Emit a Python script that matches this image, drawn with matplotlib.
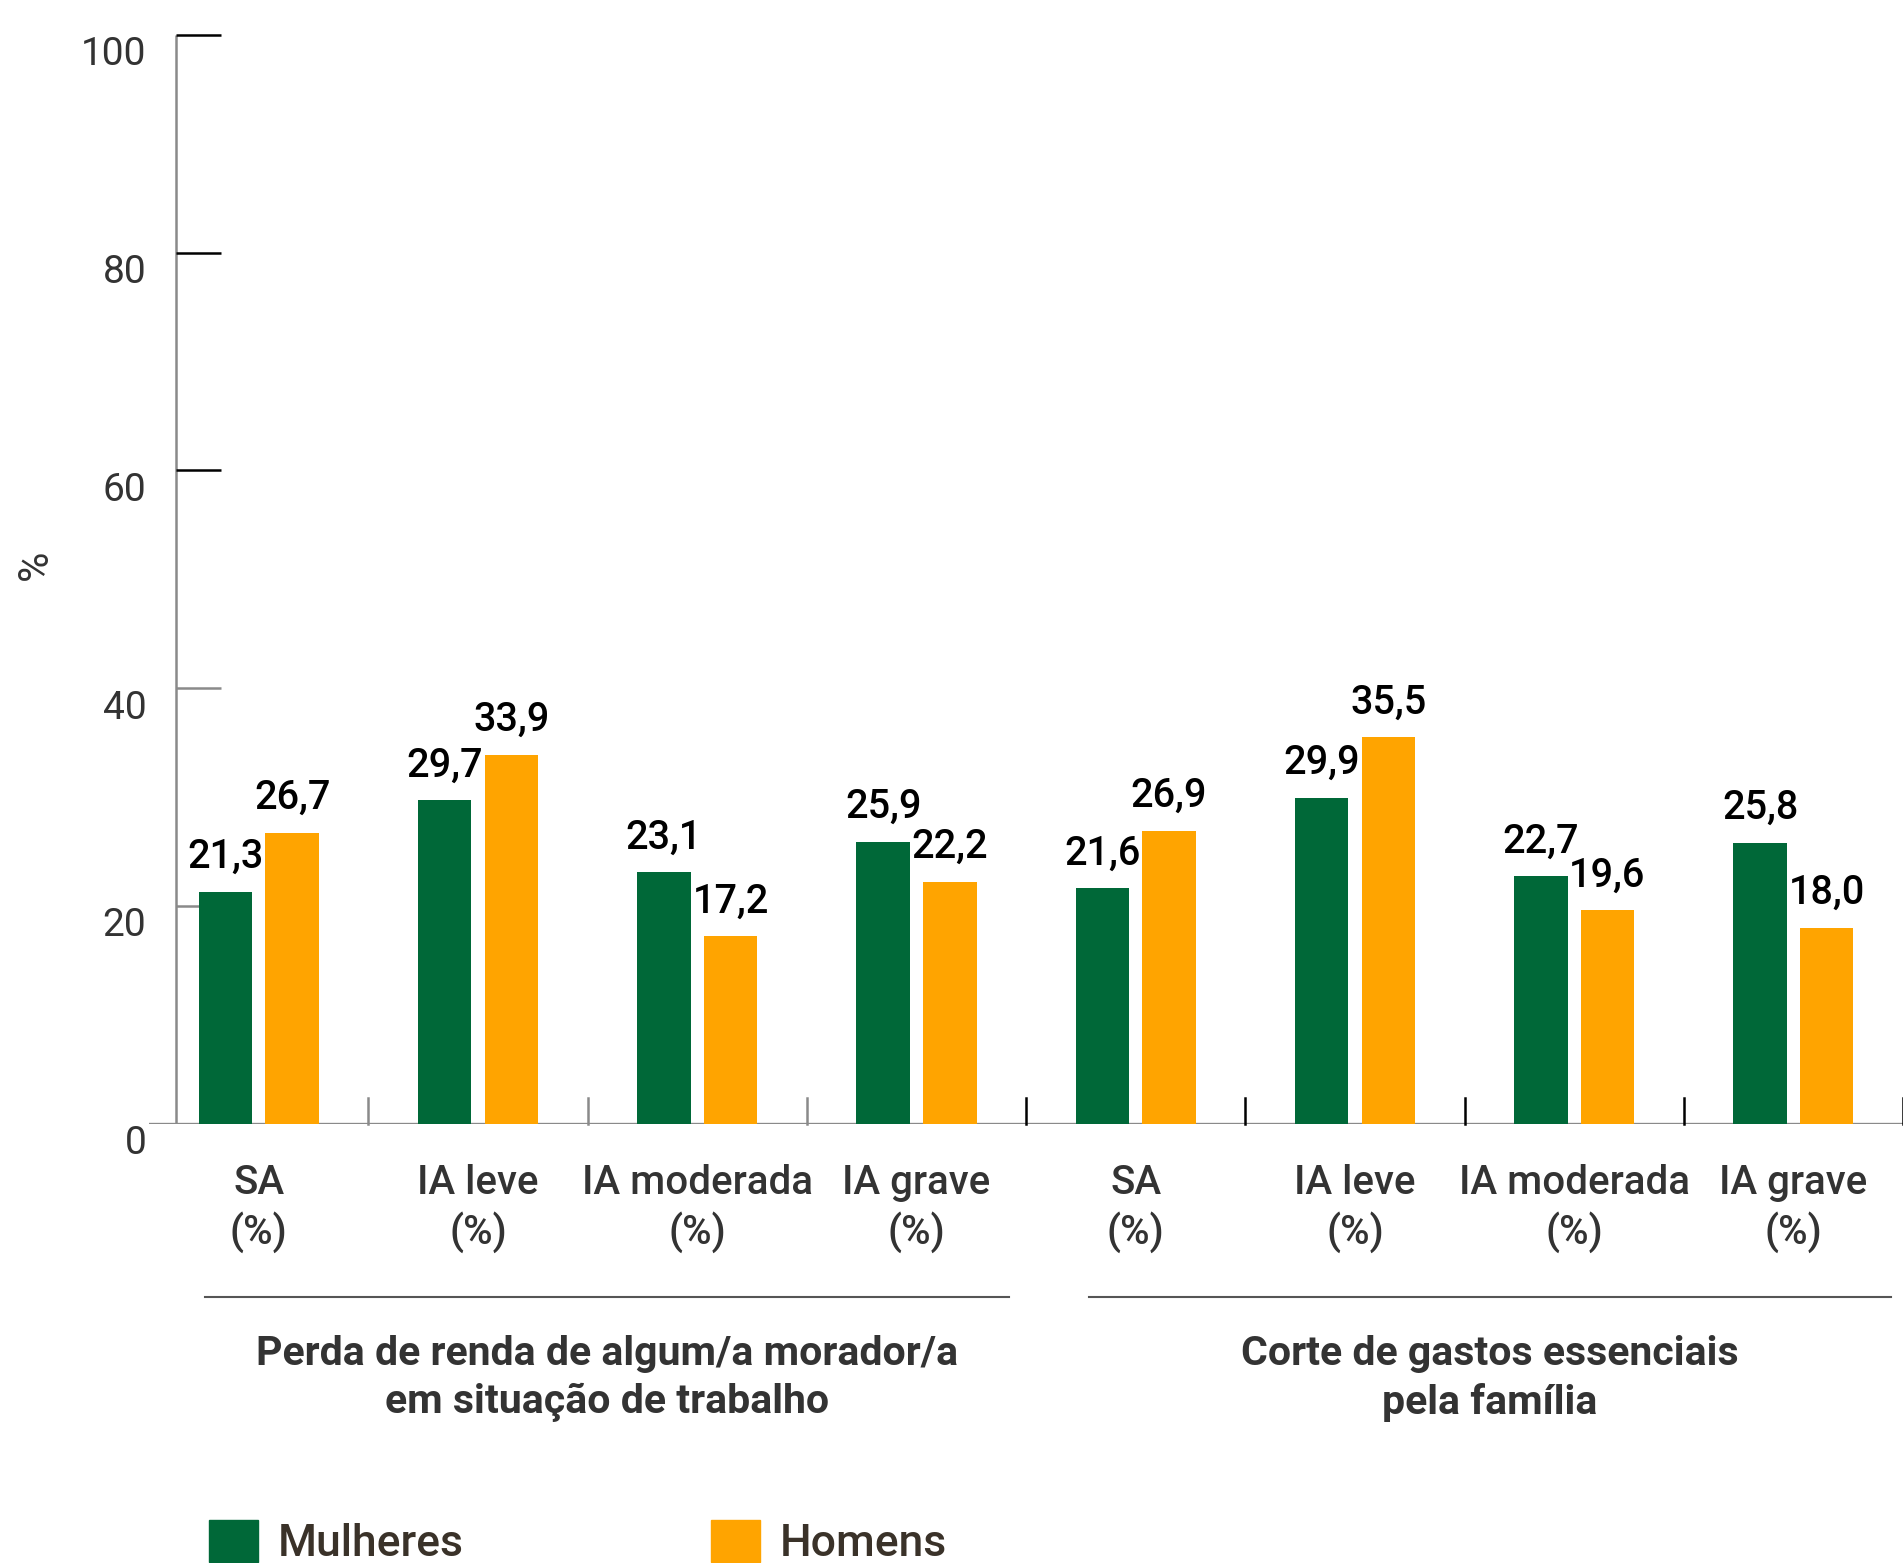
import numpy as np
import matplotlib
matplotlib.use('Agg')
import matplotlib.pyplot as plt
from matplotlib.patches import Patch
from matplotlib.transforms import ScaledTranslation

plt.rcParams['font.family'] = ['Roboto', 'DejaVu Sans']

categories = ['SA\n(%)', 'IA leve\n(%)', 'IA moderada\n(%)', 'IA grave\n(%)',
              'SA\n(%)', 'IA leve\n(%)', 'IA moderada\n(%)', 'IA grave\n(%)']
mulheres = [21.3, 29.7, 23.1, 25.9, 21.6, 29.9, 22.7, 25.8]
homens = [26.7, 33.9, 17.2, 22.2, 26.9, 35.5, 19.6, 18.0]
groups = ['Perda de renda de algum/a morador/a\nem situação de trabalho',
          'Corte de gastos essenciais\npela família']
yticks = [0, 20, 40, 60, 80, 100]

green = '#006838'
orange = '#FFA400'
grey = '#8a8a8a'
txt = '#333333'

fig = plt.figure(figsize=(19.03, 15.63), dpi=100)
ax = fig.add_axes([0.0784, 0.2811, 0.9216, 0.6987])

x = np.arange(len(categories))
w = 0.244
off = 0.152
ax.bar(x - off, mulheres, w, color=green, zorder=3)
ax.bar(x + off, homens, w, color=orange, zorder=3)

for xi, v in zip(x - off, mulheres):
    ax.text(xi, v + 3.2, f'{v:.1f}'.replace('.', ','), ha='center', va='center',
            fontsize=28.5, fontweight='medium', color='black')
for xi, v in zip(x + off, homens):
    ax.text(xi, v + 3.2, f'{v:.1f}'.replace('.', ','), ha='center', va='center',
            fontsize=28.5, fontweight='medium', color='black')

ax.set_xlim(-0.5, 7.5)
ax.set_ylim(0, 100.3)
for s in ax.spines.values():
    s.set_visible(False)

# baseline and y axis line
ax.axhline(0, color=grey, lw=2.4, zorder=2)
yax = -0.378
ax.plot([yax, yax], [0, 100], color=grey, lw=1.8, zorder=2, solid_capstyle='butt')
for t in yticks[1:]:
    c = 'black' if t >= 60 else grey
    ax.plot([yax, yax + 0.205], [t, t], color=c, lw=1.8, zorder=2, solid_capstyle='butt')

# category separators
for s in np.arange(0.5, 8, 1.0):
    c = grey if s < 3.5 else 'black'
    ax.plot([s, s], [0, 2.33], color=c, lw=1.8, zorder=2, clip_on=False)

ax.set_yticks(yticks)
ax.set_yticklabels([str(t) for t in yticks], fontsize=28, color=txt)
ax.tick_params(axis='y', length=0, pad=2)
for lbl in ax.get_yticklabels():
    lbl.set_transform(lbl.get_transform() + ScaledTranslation(0, -0.16, fig.dpi_scale_trans))

ax.set_xticks(x)
ax.set_xticklabels(categories, fontsize=29, fontweight='medium', color=txt, linespacing=1.3)
ax.tick_params(axis='x', length=0, pad=29)

ax.text(-0.065, 0.512, '%', transform=ax.transAxes, rotation=90, fontsize=30,
        color=txt, ha='center', va='center')

# group brackets
spans = [(-0.246, 3.42), (3.785, 7.445)]
for (a, b), g in zip(spans, groups):
    ax.plot([a, b], [-0.159, -0.159], color='#555555', lw=1.5,
            transform=ax.get_xaxis_transform(), clip_on=False)
    ax.text((a + b) / 2, -0.233, g, transform=ax.get_xaxis_transform(),
            ha='center', va='center', fontsize=29.5, fontweight='bold',
            color=txt, linespacing=1.32)

handles = [Patch(color=green, label='Mulheres'), Patch(color=orange, label='Homens')]
leg = fig.legend(handles=handles, loc='upper left', bbox_to_anchor=(0.110, 0.0278),
                 ncol=2, frameon=False, fontsize=32, handlelength=1.1, handleheight=1.1,
                 handletextpad=0.45, columnspacing=5.55, borderpad=0, borderaxespad=0,
                 labelcolor='#3a3229')
for t in leg.get_texts():
    t.set_fontweight('medium')

fig.savefig('out.png', dpi=100)
